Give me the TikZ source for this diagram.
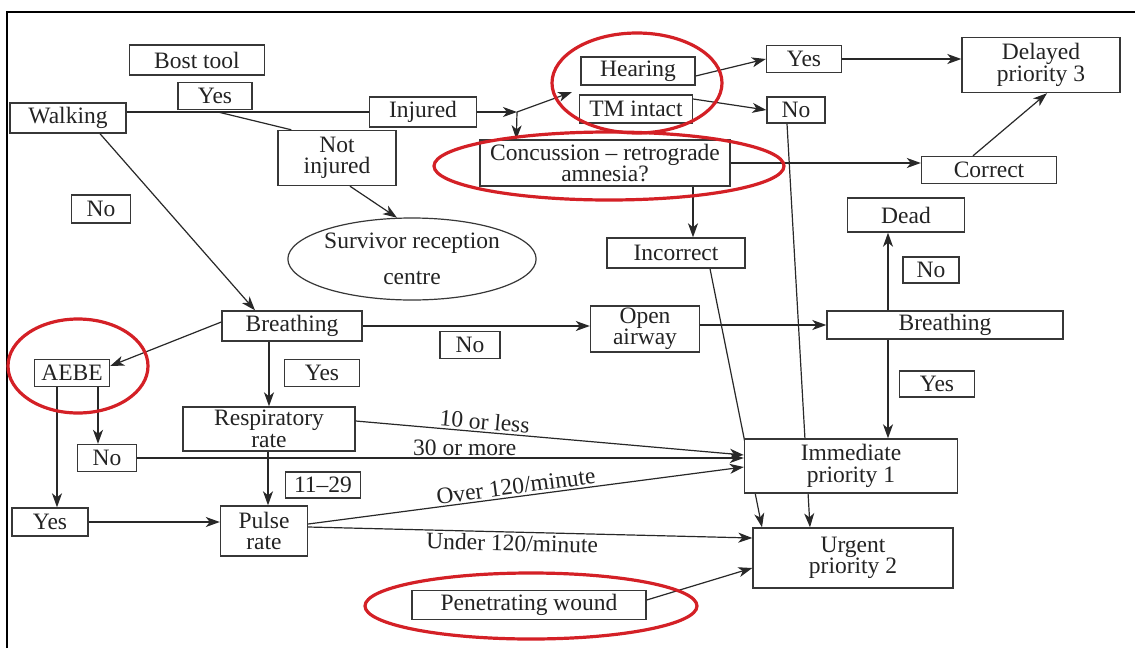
\documentclass[tikz,border=0pt]{standalone}
\usepackage{fontspec}
\setmainfont{Liberation Serif}
\usetikzlibrary{arrows.meta,shapes.geometric}
\pgfdeclarelayer{bg}
\pgfsetlayers{bg,main}
\definecolor{boxcol}{RGB}{55,55,55}
\definecolor{linecol}{RGB}{40,40,40}
\definecolor{txtcol}{RGB}{35,35,35}
\definecolor{hired}{RGB}{212,32,38}
\tikzset{
  box/.style={draw=boxcol, line width=1.4pt, fill=white, inner sep=0pt, align=center, text=txtcol, font=\fontsize{23.5}{21.5}\selectfont},
  plain/.style={draw=linecol, line width=1.2pt},
  arr/.style={draw=linecol, line width=1.2pt, -{Stealth[length=14pt,width=10pt,inset=4pt]}},
  lbl/.style={text=txtcol, font=\fontsize{23.5}{21.5}\selectfont, inner sep=2pt},
  highlight/.style={draw=hired, line width=3.2pt},
}
\begin{document}
\begin{tikzpicture}[x=1pt,y=-1pt]
\useasboundingbox (0,0) rectangle (1135,648);
\begin{pgfonlayer}{bg}
\fill[white] (0,0) rectangle (1135,648);
\end{pgfonlayer}
\draw[line width=2.6pt] (7,648) -- (7,12) -- (1135,12);

% nodes
\node[box, minimum width=135, minimum height=30] (bost) at (197,60) {Bost tool};
\node[box, minimum width=74, minimum height=27] (yesT) at (215,96) {Yes};
\node[box, minimum width=116, minimum height=30] (walk) at (68,118) {Walking};
\node[box, minimum width=107, minimum height=30] (inj) at (423,112) {Injured};
\node[box, minimum width=118, minimum height=55] (nj) at (337,158) {Not\\injured};
\node[box, minimum width=59, minimum height=28] (noT) at (101,209) {No};
\node[ellipse, draw=boxcol, line width=1.2pt, minimum width=220, minimum height=82, inner sep=0pt, align=center, text=txtcol, font=\fontsize{23.5}{21.5}\selectfont] (surv) at (412,259) {Survivor reception\\[14pt]centre};
\node[box, minimum width=114, minimum height=28] (hear) at (638,71) {Hearing};
\node[box, minimum width=113, minimum height=28] (tm) at (636,109) {TM intact};
\node[box, minimum width=250, minimum height=46] (conc) at (605,163) {Concussion -- retrograde\\amnesia?};
\node[box, minimum width=75, minimum height=27] (yes2) at (804,59) {Yes};
\node[box, minimum width=58, minimum height=26] (no2) at (796,110) {No};
\node[box, minimum width=158, minimum height=55] (del) at (1041,65) {Delayed\\priority 3};
\node[box, minimum width=135, minimum height=27] (corr) at (989,170) {Correct};
\node[box, minimum width=117, minimum height=34] (dead) at (906,215) {Dead};
\node[box, minimum width=56, minimum height=26] (noR) at (931,270) {No};
\node[box, minimum width=138, minimum height=30] (inc) at (676,253) {Incorrect};
\node[box, minimum width=140, minimum height=30] (brL) at (292,326) {Breathing};
\node[box, minimum width=60, minimum height=27] (noM) at (470,345) {No};
\node[box, minimum width=109, minimum height=46] (oa) at (645,329) {Open\\airway};
\node[box, minimum width=236, minimum height=28] (brR) at (945,325) {Breathing};
\node[box, minimum width=75, minimum height=27] (aebe) at (72,373) {AEBE};
\node[box, minimum width=75, minimum height=27] (yesB) at (322,373) {Yes};
\node[box, minimum width=75, minimum height=26] (yesR) at (937,384) {Yes};
\node[box, minimum width=172, minimum height=44] (resp) at (269,429) {Respiratory\\rate};
\node[box, minimum width=59, minimum height=27] (noL) at (107,458) {No};
\node[box, minimum width=75, minimum height=26] (rng) at (323,485) {11--29};
\node[box, minimum width=213, minimum height=54] (imm) at (851,466) {Immediate\\priority 1};
\node[box, minimum width=76, minimum height=28] (yesL) at (50,522) {Yes};
\node[box, minimum width=87, minimum height=50] (pulse) at (264,531) {Pulse\\rate};
\node[box, minimum width=200, minimum height=60] (urg) at (853,558) {Urgent\\priority 2};
\node[box, minimum width=234, minimum height=29] (pw) at (529,605) {Penetrating wound};

\coordinate (split) at (218,112);
\coordinate (jn) at (517,112);
\coordinate (up) at (572,92);

% connectors behind the boxes
\begin{pgfonlayer}{bg}
\draw[plain] ([yshift=6pt]walk.east) -- (inj.west);
\draw[arr] ([xshift=-9pt]no2.south) -- ([xshift=-43pt]urg.north);
\draw[arr] ([xshift=34pt]inc.south) -- ([xshift=-91pt]urg.north);
\end{pgfonlayer}

\draw[plain] (split) -- ([xshift=14pt]nj.north west);
\draw[arr] ([xshift=13pt]nj.south) -- (surv.110);
\draw[arr] (inj.east) -- (jn);
\draw[arr] (jn) -- (up);
\draw[arr] (jn) -- ([xshift=37pt]conc.north west);
\draw[arr] ([yshift=-5pt]hear.east) -- (yes2.west);
\draw[arr] ([yshift=10pt]tm.east) -- (no2.west);
\draw[arr] (yes2.east) -- (yes2.east -| del.west);
\draw[arr] (conc.east) -- (conc.east -| corr.west);
\draw[arr] ([xshift=-16pt]corr.north) -- ([xshift=6pt]del.south);
\draw[arr] ([xshift=88pt]conc.south) -- ([xshift=17pt]inc.north);
\draw[arr] ([xshift=-57pt]brR.north) -- ([xshift=-18pt]dead.south);
\draw[arr] ([xshift=-57pt]brR.south) -- ([xshift=37pt]imm.north);
\draw[arr] ([yshift=4pt]oa.east) -- ([yshift=4pt]oa.east -| brR.west);
\draw[arr] (brL.east) -- (brL.east -| oa.west);
\draw[arr] ([xshift=32pt]walk.south) -- ([xshift=-37pt]brL.north);
\draw[arr] ([yshift=4pt]brL.west) -- ([yshift=7pt]aebe.east);
\draw[arr] (brL.south -| resp.north) -- (resp.north);
\draw[arr] ([xshift=-15pt]aebe.south) -- ([xshift=7pt]yesL.north);
\draw[arr] ([xshift=26pt]aebe.south) -- ([xshift=-9pt]noL.north);
\draw[arr] (noL.east) -- (noL.east -| imm.west)
  node[lbl, pos=0.54, above] {30 or more};
\draw[arr] ([yshift=8pt]resp.east) -- ([yshift=11pt]imm.west)
  node[lbl, pos=0.33, above, sloped] {10 or less};
\draw[arr] ([xshift=-1pt]resp.south) -- ([xshift=4pt]pulse.north);
\draw[arr] (yesL.east) -- (yesL.east -| pulse.west);
\draw[arr] ([yshift=7pt]pulse.east) -- ([yshift=-1pt]imm.west)
  node[lbl, pos=0.48, above, sloped] {Over 120/minute};
\draw[arr] ([yshift=4pt]pulse.east) -- ([yshift=20pt]urg.west)
  node[lbl, pos=0.46, below, sloped] {Under 120/minute};
\draw[arr] ([yshift=5pt]pw.east) -- ([yshift=-10pt]urg.west);

% red highlight ellipses
\draw[highlight] (637,83) ellipse (85 and 50);
\draw[highlight] (609,166) ellipse (175 and 34);
\draw[highlight] (78,366) ellipse (70 and 47);
\draw[highlight] (531,606) ellipse (166 and 33);
\end{tikzpicture}
\end{document}
